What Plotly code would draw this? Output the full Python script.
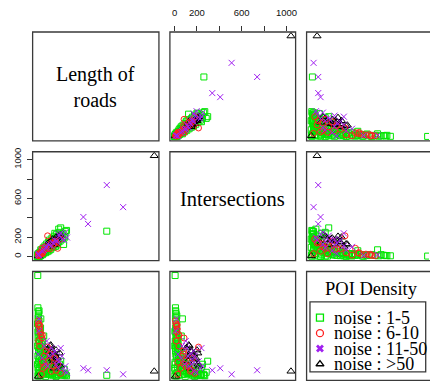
import plotly.graph_objects as go

W, H = 430, 385

# ---------------- data ----------------
# Length of roads, Intersections, third variable (POI), per noise class
green_L = [4, 8, 12, 6, 15, 10, 20, 5, 25, 14, 30, 18, 8, 35, 22, 40, 10, 28, 45, 60,
           15, 70, 50, 90, 35, 110, 80, 125, 20, 140, 100, 65, 160, 150, 183, 225, 120, 200, 95, 175,
           240, 55, 30, 130, 210, 5, 12, 250, 70, 160, 594, 30, 5, 15, 10, 200, 150, 40, 60, 20,
           85, 25, 45, 2, 8, 190, 130, 55, 105, 230,
           5, 10, 18, 25, 30, 40, 45, 50, 55, 65, 70, 80, 85, 95, 100, 105, 115, 125, 135, 145,
           155, 165, 170, 180, 195, 215, 220, 235, 3, 6, 9, 12, 16, 20, 28, 35, 2, 7, 14, 22]
green_I = [5, 10, 14, 8, 12, 15, 18, 6, 22, 16, 28, 20, 12, 30, 26, 38, 9, 30, 50, 55,
           20, 75, 44, 85, 40, 100, 90, 120, 25, 150, 115, 60, 170, 140, 283, 125, 135, 190, 110, 200,
           260, 70, 35, 160, 230, 3, 18, 270, 95, 180, 262, 70, 8, 10, 20, 296, 240, 45, 80, 15,
           70, 35, 30, 4, 5, 250, 110, 60, 90, 210,
           15, 30, 8, 45, 12, 70, 20, 90, 35, 110, 40, 130, 50, 150, 60, 170, 75, 190, 95, 210,
           105, 230, 120, 150, 160, 180, 240, 200, 2, 12, 4, 25, 6, 40, 10, 55, 20, 1, 30, 5]
green_D = [100, 64, 62, 58, 55, 50, 47, 44, 42, 40, 38, 36, 33, 32, 30, 28, 25, 24, 22, 20,
           18, 17, 15, 14, 13, 12, 11, 10, 9, 8, 8, 7, 6, 5, 4, 3, 4, 3, 3, 2,
           2, 2, 1, 1, 1, 0.5, 0.3, 0.5, 0, 0, 1, 57, 68, 65, 60, 15, 9, 10, 5, 3,
           22, 27, 35, 12, 6, 12, 18, 40, 2, 7,
           20, 15, 28, 12, 22, 8, 30, 6, 18, 4, 26, 3, 20, 2, 16, 5, 14, 3, 12, 2,
           10, 1, 9, 6, 4, 3, 2, 1, 30, 38, 45, 26, 35, 20, 48, 16, 52, 8, 4, 14]

red_L = [15, 22, 18, 25, 10, 30, 43, 40, 12, 88, 75, 60, 150, 100, 174, 140, 50, 120, 200, 35, 8,
         20, 65, 110, 160, 45]
red_I = [12, 18, 25, 20, 8, 35, 40, 85, 15, 214, 80, 70, 160, 95, 85, 130, 55, 140, 180, 30, 23,
         40, 100, 80, 150, 30]
red_D = [52, 50, 47, 44, 55, 41, 41, 38, 35, 29, 25, 20, 18, 15, 12, 10, 8, 5, 3, 2, 51,
         30, 10, 22, 6, 14]

purple_L = [734, 594, 394, 434, 200, 150, 160, 240, 230, 100, 60, 180, 80, 254, 14, 120, 12, 170, 90, 210, 8,
            40, 135, 70, 190]
purple_I = [510, 738, 408, 337, 240, 170, 155, 250, 170, 120, 65, 230, 100, 197, 18, 110, 10, 160, 130, 180, 30,
            60, 140, 90, 215]
purple_D = [2, 6, 8, 6, 28, 25, 12, 10, 5, 20, 30, 8, 35, 4, 57, 28, 45, 16, 10, 20, 22,
            18, 22, 12, 15]

black_L = [1000, 10, 110, 130, 150, 170, 120, 140, 160, 180, 95, 200, 130, 145, 115, 190,
           100, 165, 155]
black_I = [1040, 7, 130, 150, 170, 190, 160, 120, 200, 210, 105, 220, 180, 140, 127, 208,
           150, 175, 130]
black_D = [5, 0, 30, 25, 22, 18, 20, 15, 26, 12, 28, 10, 17, 8, 31, 23,
           24, 14, 20]

var_labels = ["Length of<br>roads", "Intersections", None]
tick_vals = [0, 200, 400, 600, 800, 1000]
tick_text = ["0", "200", "", "600", "", "1000"]
legend_title = "POI Density"
legend_labels = ["noise : 1-5", "noise : 6-10", "noise : 11-50", "noise : >50"]

cats = [
    dict(L=green_L, I=green_I, D=green_D, color="#00E600", sym="square-open", size=6, lsym="square-open"),
    dict(L=black_L, I=black_I, D=black_D, color="#000000", sym="triangle-up-open", size=7, lsym="triangle-up-open"),
    dict(L=red_L, I=red_I, D=red_D, color="#FF2020", sym="circle-open", size=6, lsym="circle-open"),
    dict(L=purple_L, I=purple_I, D=purple_D, color="#A020F0", sym="x-thin-open", size=6, lsym="x"),
]
legend_order = [0, 2, 3, 1]

# ---------------- layout geometry ----------------
col_px = [(32.7, 159.3), (170.3, 296.3), (307.3, 433.3)]
row_px = [(28.3, 138.3), (149.3, 259.3), (270.3, 380.3)]
var_range = [(-40, 1040), (-41.6, 1081.6), (-4, 104)]

fig = go.Figure()
layout = dict(
    width=W, height=H, margin=dict(l=0, r=0, t=0, b=0),
    paper_bgcolor="white", plot_bgcolor="rgba(0,0,0,0)", showlegend=False,
)


def xdom(j):
    lo, hi = col_px[j]
    r0, r1 = var_range[j]
    if hi > W:
        r1 = r0 + (r1 - r0) * (W - lo) / (hi - lo)
        hi = W
    return [lo / W, hi / W], [r0, r1]


def ydom(i):
    top, bot = row_px[i]
    return [1 - bot / H, 1 - top / H], list(var_range[i])


tickfont = dict(family="Liberation Sans, Arial", size=9.5, color="#111")
ax = 0
for i in range(3):
    for j in range(3):
        if i == j:
            continue
        ax += 1
        xn = "xaxis" if ax == 1 else f"xaxis{ax}"
        yn = "yaxis" if ax == 1 else f"yaxis{ax}"
        xr = "x" if ax == 1 else f"x{ax}"
        yr = "y" if ax == 1 else f"y{ax}"
        xd, xrng = xdom(j)
        yd, yrng = ydom(i)
        xa = dict(domain=xd, range=xrng, anchor=yr, showgrid=False, zeroline=False,
                  showline=False, showticklabels=False, ticks="")
        ya = dict(domain=yd, range=yrng, anchor=xr, showgrid=False, zeroline=False,
                  showline=False, showticklabels=False, ticks="")
        if i == 0 and j == 1:
            xa.update(side="top", ticks="outside", ticklen=5, tickwidth=1, tickcolor="#333",
                      tickvals=tick_vals, ticktext=tick_text, showticklabels=True,
                      tickfont=tickfont, ticklabelstandoff=6)
        if i == 1 and j == 0:
            ya.update(side="left", ticks="outside", ticklen=5, tickwidth=1, tickcolor="#333",
                      tickvals=tick_vals, ticktext=tick_text, showticklabels=True,
                      tickfont=tickfont, tickangle=-90, ticklabelstandoff=2)
        layout[xn] = xa
        layout[yn] = ya
        for c in cats:
            vals = [c["L"], c["I"], c["D"]]
            fig.add_trace(go.Scatter(
                x=vals[j], y=vals[i], xaxis=xr, yaxis=yr, mode="markers",
                hoverinfo="skip",
                marker=dict(symbol=c["sym"], size=c["size"], color=c["color"],
                            line=dict(width=1, color=c["color"])),
            ))

# legend axis in panel (3,3)
ax += 1
lx0, lx1 = col_px[2]
ly0, ly1 = row_px[2]
layout[f"xaxis{ax}"] = dict(domain=[lx0 / W, 1], range=[lx0, W], visible=False, anchor=f"y{ax}")
layout[f"yaxis{ax}"] = dict(domain=[1 - ly1 / H, 1 - ly0 / H], range=[ly1, ly0], visible=False,
                            anchor=f"x{ax}")
leg_sym_x = 320.7
leg_y0 = 317.0
leg_dy = 15.6
for k, ci in enumerate(legend_order):
    c = cats[ci]
    fig.add_trace(go.Scatter(
        x=[leg_sym_x], y=[leg_y0 + k * leg_dy], xaxis=f"x{ax}", yaxis=f"y{ax}",
        mode="markers", hoverinfo="skip", cliponaxis=False,
        marker=dict(symbol=c["lsym"], size=7, color=c["color"],
                    line=dict(width=1.3 if c["lsym"] != "x" else 0, color=c["color"])),
    ))

shapes = []
for i in range(3):
    for j in range(3):
        x0, x1 = col_px[j]
        y0, y1 = row_px[i]
        shapes.append(dict(type="rect", xref="paper", yref="paper",
                           x0=x0 / W, x1=x1 / W, y0=1 - y1 / H, y1=1 - y0 / H,
                           line=dict(color="#3a3a3a", width=1.3)))
# inner legend box
shapes.append(dict(type="rect", xref="paper", yref="paper",
                   x0=310.7 / W, x1=426.7 / W, y0=1 - 371.7 / H, y1=1 - 301 / H,
                   line=dict(color="#3a3a3a", width=1.3)))
layout["shapes"] = shapes

serif = "Liberation Serif, Times New Roman, serif"
ann = []
ann.append(dict(text=var_labels[0], x=(col_px[0][0] + col_px[0][1]) / 2 / W, y=1 - 84 / H,
                xref="paper", yref="paper", showarrow=False, xanchor="center", yanchor="middle",
                font=dict(family=serif, size=20, color="black")))
ann.append(dict(text=var_labels[1], x=(col_px[1][0] + col_px[1][1]) / 2 / W, y=1 - 197.5 / H,
                xref="paper", yref="paper", showarrow=False, xanchor="center", yanchor="middle",
                font=dict(family=serif, size=20.5, color="black")))
ann.append(dict(text=legend_title, x=372 / W, y=1 - 288 / H, xref="paper", yref="paper",
                showarrow=False, xanchor="center", yanchor="middle",
                font=dict(family=serif, size=18.5, color="black")))
for k, lab in enumerate(legend_labels):
    ann.append(dict(text=lab, x=333 / W, y=1 - (leg_y0 + k * leg_dy) / H, xref="paper", yref="paper",
                    showarrow=False, xanchor="left", yanchor="middle",
                    font=dict(family=serif, size=18, color="black")))
layout["annotations"] = ann

fig.update_layout(**layout)
fig.write_html("out.html", config={"displayModeBar": False},
               post_script="document.body.style.margin='0';document.body.style.padding='0';"
                           "document.body.style.overflow='hidden';")
